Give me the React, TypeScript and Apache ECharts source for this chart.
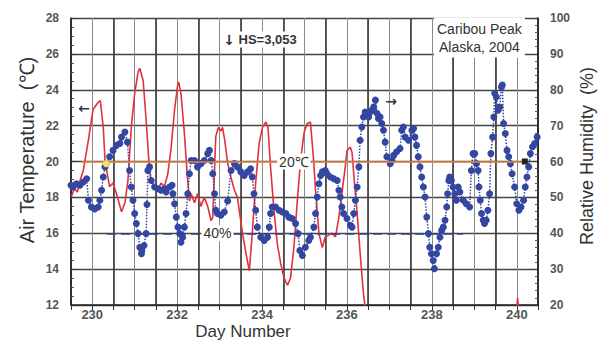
import React, { useEffect, useRef } from "react";
import * as echarts from "echarts";

// Air temperature (°C), left axis
const tempDay = [
  229.51, 229.58, 229.65, 229.72, 229.79, 229.91, 230.02, 230.14, 230.19, 230.26,
  230.3, 230.37, 230.41, 230.49, 230.57, 230.69, 230.77, 230.84, 230.92, 231.0,
  231.08, 231.12, 231.2, 231.27, 231.35, 231.39, 231.47, 231.55, 231.62, 231.7,
  231.78, 231.86, 231.94, 232.02, 232.04, 232.09, 232.17, 232.23, 232.29, 232.33,
  232.41, 232.48, 232.56, 232.64, 232.72, 232.8, 232.84, 232.88, 232.91, 232.97,
  233.03, 233.07, 233.12, 233.19, 233.27, 233.35, 233.42, 233.54, 233.62, 233.7,
  233.77, 233.85, 233.93, 234.01, 234.09, 234.14, 234.2, 234.28, 234.36, 234.44,
  234.52, 234.6, 234.67, 234.75, 234.83, 234.91, 234.99, 235.06, 235.14, 235.22,
  235.26, 235.34, 235.42, 235.49, 235.57, 235.65, 235.73, 235.81, 235.88, 235.96,
  236.0, 236.08, 236.12, 236.16, 236.24, 236.31, 236.39, 236.45, 236.46, 239.99,
  240.02, 240.05,
];
const tempC: (number | null)[] = [
  18.05, 18.5, 18.3, 19.0, 19.5, 21.2, 22.9, 23.3, 23.4, 21.9,
  20.1, 19.1, 18.6, 18.8, 18.2, 17.2, 17.7, 18.9, 21.9, 23.8,
  25.0, 25.2, 24.5, 22.3, 19.5, 18.9, 18.6, 18.4, 18.8, 18.6,
  19.3, 20.8, 22.9, 24.4, 24.4, 23.8, 21.6, 19.5, 17.8, 18.2,
  17.7, 18.2, 17.5, 18.0, 17.5, 16.7, 16.9, 19.5, 21.4, 21.9,
  21.7, 21.9, 21.2, 19.9, 19.1, 18.4, 18.0, 16.0, 14.9, 13.9,
  16.0, 18.8, 21.0, 21.9, 22.2, 21.9, 19.7, 17.3, 15.4, 14.3,
  13.5, 13.1, 13.5, 15.2, 17.8, 20.1, 21.6, 22.1, 22.2, 19.9,
  18.4, 16.0, 15.2, 15.8, 15.9, 16.0, 15.8, 16.9, 18.2, 19.7,
  20.6, 20.8, 20.5, 19.3, 17.1, 14.9, 12.6, 11.5, null, 11.5,
  12.4, 11.5,
];

// Relative humidity (%), right axis
const rhDay = [
  229.5, 229.55, 229.63, 229.71, 229.79, 229.87, 229.91, 229.98, 230.06, 230.14,
  230.18, 230.22, 230.26, 230.3, 230.33, 230.41, 230.49, 230.57, 230.65, 230.69,
  230.77, 230.83, 230.88, 230.92, 230.96, 231.0, 231.04, 231.08, 231.12, 231.16,
  231.17, 231.22, 231.27, 231.29, 231.31, 231.35, 231.39, 231.47, 231.55, 231.62,
  231.7, 231.74, 231.82, 231.88, 231.9, 231.94, 231.98, 232.02, 232.06, 232.09,
  232.13, 232.17, 232.21, 232.25, 232.29, 232.33, 232.41, 232.48, 232.56, 232.64,
  232.72, 232.76, 232.8, 232.84, 232.88, 232.91, 232.95, 233.03, 233.11, 233.19,
  233.27, 233.35, 233.42, 233.5, 233.58, 233.66, 233.73, 233.77, 233.81, 233.85,
  233.89, 233.97, 234.05, 234.13, 234.17, 234.2, 234.24, 234.32, 234.4, 234.48,
  234.56, 234.63, 234.71, 234.79, 234.85, 234.89, 234.95, 235.02, 235.1, 235.14,
  235.22, 235.26, 235.3, 235.34, 235.38, 235.42, 235.49, 235.53, 235.61, 235.69,
  235.77, 235.81, 235.84, 235.88, 235.92, 236.0, 236.08, 236.12, 236.16, 236.2,
  236.24, 236.28, 236.31, 236.35, 236.39, 236.43, 236.47, 236.51, 236.55, 236.59,
  236.63, 236.67, 236.71, 236.74, 236.78, 236.82, 236.86, 236.9, 236.94, 237.02,
  237.06, 237.1, 237.17, 237.25, 237.29, 237.33, 237.37, 237.45, 237.53, 237.57,
  237.6, 237.64, 237.68, 237.72, 237.76, 237.8, 237.84, 237.88, 237.92, 237.95,
  237.99, 238.03, 238.06, 238.11, 238.15, 238.19, 238.23, 238.27, 238.31, 238.35,
  238.37, 238.4, 238.42, 238.46, 238.5, 238.54, 238.58, 238.62, 238.66, 238.74,
  238.81, 238.89, 238.93, 238.97, 239.01, 239.05, 239.09, 239.11, 239.14, 239.17,
  239.21, 239.24, 239.28, 239.32, 239.36, 239.39, 239.43, 239.46, 239.48, 239.52,
  239.56, 239.6, 239.64, 239.66, 239.69, 239.73, 239.77, 239.81, 239.85, 239.89,
  239.95, 240.0, 240.05, 240.1, 240.16, 240.2, 240.24, 240.28, 240.32, 240.37,
  240.42, 240.48,
];
const rhPct = [
  53.4, 52.9, 53.8, 53.4, 54.3, 55.2, 49.2, 47.3, 46.8, 47.3,
  49.2, 52.0, 55.7, 58.5, 59.4, 61.3, 63.1, 64.5, 65.0, 66.8,
  68.2, 65.4, 57.5, 52.9, 49.2, 45.5, 42.7, 39.9, 36.1, 34.3,
  35.2, 36.6, 39.9, 48.0, 57.5, 58.5, 54.7, 52.9, 52.4, 52.0,
  52.4, 51.5, 52.9, 53.4, 51.0, 48.2, 44.5, 41.7, 39.9, 37.5,
  38.9, 41.7, 45.5, 51.0, 56.6, 60.3, 60.3, 58.5, 59.4, 60.3,
  62.2, 63.1, 60.3, 56.6, 51.0, 46.4, 45.5, 45.0, 45.9, 49.0,
  57.5, 59.4, 58.5, 57.1, 56.1, 57.1, 58.0, 55.7, 51.0, 46.4,
  41.7, 38.9, 38.0, 38.9, 41.7, 45.5, 47.3, 47.3, 46.4, 45.9,
  45.5, 44.5, 44.1, 42.7, 39.9, 35.2, 33.8, 36.1, 38.0, 38.9,
  41.7, 45.5, 50.1, 53.8, 56.1, 57.1, 57.5, 56.6, 55.7, 55.2,
  54.7, 52.0, 50.1, 47.3, 45.5, 44.1, 42.2, 41.7, 45.5, 49.2,
  52.9, 58.5, 65.9, 69.6, 72.4, 73.8, 73.4, 72.4, 73.8, 74.3,
  75.2, 77.1, 73.4, 72.0, 72.4, 70.6, 68.7, 65.4, 61.3, 59.4,
  60.3, 61.7, 62.7, 63.6, 68.7, 69.6, 66.8, 65.9, 68.7, 69.2,
  66.8, 64.5, 61.3, 58.5, 55.7, 52.9, 50.1, 44.5, 39.9, 36.1,
  34.3, 32.4, 30.1, 34.3, 36.1, 38.9, 40.8, 41.7, 43.6, 47.3,
  51.0, 54.7, 55.7, 54.7, 52.9, 51.0, 49.2, 52.9, 51.5, 49.2,
  48.2, 47.3, 57.5, 62.2, 62.2, 59.4, 57.5, 52.9, 49.2, 45.5,
  43.6, 42.7, 43.6, 46.4, 51.0, 62.2, 66.8, 72.4, 79.0, 78.0,
  74.3, 75.2, 80.8, 81.3, 70.6, 67.8, 63.1, 61.3, 59.4, 56.6,
  52.9, 48.2, 46.4, 47.3, 49.2, 52.9, 55.7, 58.5, 62.2, 64.1,
  65.0, 66.8,
];

const dayLabels = [230, 232, 234, 236, 238, 240];
const tempTicks = [12, 14, 16, 18, 20, 22, 24, 26, 28];
const rhTicks = [20, 30, 40, 50, 60, 70, 80, 90, 100];

const FONT = '"Liberation Sans", Arial, sans-serif';
const ARROW_FONT = '"DejaVu Sans", sans-serif';

const labelPoint = (text: string, coord: number[], extra: any = {}) => ({
  coord,
  symbol: "circle",
  symbolSize: 1,
  itemStyle: { color: "rgba(0,0,0,0)" },
  label: {
    show: true,
    position: "inside",
    formatter: text,
    color: "#333",
    fontSize: 14,
    fontFamily: FONT,
    backgroundColor: "#fff",
    padding: [1, 2],
    ...extra,
  },
});

export default function App() {
  const ref = useRef<HTMLDivElement>(null);
  useEffect(() => {
    if (!ref.current) return;
    const chart = echarts.init(ref.current, undefined, { renderer: "svg" });
    const tempData = tempDay.map((d, i) => (tempC[i] === null ? [d, "-"] : [d, tempC[i]]));
    const rhData = rhDay.map((d, i) => [d, rhPct[i]]);
    const option: any = {
      animation: false,
      backgroundColor: "#fff",
      grid: { left: 71, right: 63, top: 18, bottom: 37, containLabel: false },
      xAxis: [
        {
          type: "value",
          min: 229.5,
          max: 240.5,
          interval: 0.5,
          axisLine: { show: true, onZero: false, lineStyle: { color: "#222", width: 1.5 } },
          axisTick: { show: true, length: 5, lineStyle: { color: "#333" } },
          axisLabel: {
            color: "#555",
            fontSize: 13,
            fontWeight: "bold",
            fontFamily: FONT,
            margin: 3,
            formatter: (v: number) => {
              const r = Math.round(v);
              return Math.abs(v - r) < 1e-6 && dayLabels.includes(r) ? String(r) : "";
            },
          },
          splitLine: { show: true, lineStyle: { color: "#8a8a8a", width: 1 } },
        },
        {
          type: "value",
          min: 229.5,
          max: 240.5,
          interval: 1,
          position: "bottom",
          axisLine: { show: false },
          axisTick: { show: false },
          axisLabel: { show: false },
          splitLine: { show: true, lineStyle: { color: "#3a3a3a", width: 1.6 } },
        },
      ],
      yAxis: [
        {
          type: "value",
          min: 12,
          max: 28,
          interval: 2,
          axisLine: { show: true, lineStyle: { color: "#222", width: 1.5 } },
          axisTick: { show: true, inside: true, length: 4, lineStyle: { color: "#333" } },
          minorTick: { show: true, splitNumber: 4, length: 3, lineStyle: { color: "#555" } },
          axisLabel: {
            color: "#555",
            fontSize: 12,
            fontWeight: "bold",
            fontFamily: FONT,
            margin: 12,
            formatter: (v: number) => (tempTicks.includes(v) ? String(v) : ""),
          },
          splitLine: { show: true, lineStyle: { color: "#444", width: 1.3 } },
        },
        {
          type: "value",
          min: 20,
          max: 100,
          interval: 10,
          position: "right",
          axisLine: { show: true, lineStyle: { color: "#222", width: 1.5 } },
          axisTick: { show: true, inside: true, length: 4, lineStyle: { color: "#333" } },
          minorTick: { show: true, splitNumber: 5, length: 3, lineStyle: { color: "#555" } },
          axisLabel: {
            color: "#555",
            fontSize: 12,
            fontWeight: "bold",
            fontFamily: FONT,
            margin: 12,
            formatter: (v: number) => (rhTicks.includes(v) ? String(v) : ""),
          },
          splitLine: { show: false },
        },
      ],
      series: [
        {
          name: "Air Temperature",
          type: "line",
          xAxisIndex: 0,
          yAxisIndex: 0,
          data: tempData,
          showSymbol: false,
          connectNulls: false,
          clip: true,
          z: 3,
          lineStyle: { color: "#e2313d", width: 1.6 },
          itemStyle: { color: "#e2313d" },
          markLine: {
            silent: true,
            symbol: ["none", "none"],
            label: { show: false },
            lineStyle: { color: "#e8873c", width: 1.6, type: "solid" },
            data: [[{ coord: [229.75, 20] }, { coord: [240.22, 20] }]],
          },
          markPoint: {
            silent: true,
            data: [
              labelPoint("20℃", [234.75, 20]),
              labelPoint("40%", [232.95, 16]),
              labelPoint("{a|↓} HS=3,053", [233.95, 26.8], {
                fontWeight: "bold",
                fontSize: 13,
                rich: { a: { fontFamily: ARROW_FONT, fontSize: 14, color: "#333" } },
              }),
              labelPoint("←", [229.81, 22.97], {
                backgroundColor: "transparent",
                fontSize: 14,
                fontFamily: ARROW_FONT,
                fontWeight: "bold",
              }),
              labelPoint("→", [237.04, 23.4], {
                backgroundColor: "transparent",
                fontSize: 14,
                fontFamily: ARROW_FONT,
                fontWeight: "bold",
              }),
              labelPoint("Caribou Peak\nAlaska, 2004", [239.12, 26.91], {
                lineHeight: 18,
                padding: [2, 3],
                align: "center",
              }),
              {
                coord: [240.19, 20],
                symbol: "rect",
                symbolSize: 6,
                itemStyle: { color: "#222" },
                label: { show: false },
              },
            ],
          },
        },
        {
          name: "Relative Humidity",
          type: "line",
          xAxisIndex: 0,
          yAxisIndex: 1,
          data: rhData,
          showSymbol: true,
          showAllSymbol: true,
          symbol: "circle",
          symbolSize: 7,
          z: 4,
          lineStyle: { color: "#3346a2", width: 1.5, type: "dotted" },
          itemStyle: { color: "#3346a2" },
          markLine: {
            silent: true,
            symbol: ["none", "none"],
            label: { show: false },
            lineStyle: { color: "#2d4590", width: 1.5, type: [9, 5] },
            data: [[{ coord: [230.35, 40] }, { coord: [238.74, 40] }]],
          },
          markPoint: {
            silent: true,
            data: [
              {
                coord: [230.33, 59.4],
                symbol: "circle",
                symbolSize: 7,
                itemStyle: { color: "#f3e35c" },
                label: { show: false },
              },
            ],
          },
        },
      ],
      graphic: [
        {
          type: "text",
          x: 27,
          y: 150,
          rotation: Math.PI / 2,
          style: {
            text: "Air Temperature  (℃)",
            font: `20px ${FONT}`,
            fill: "#333",
            textAlign: "center",
            textVerticalAlign: "middle",
            align: "center",
            verticalAlign: "middle",
          },
        },
        {
          type: "text",
          x: 587,
          y: 156,
          rotation: Math.PI / 2,
          style: {
            text: "Relative Humidity  (%)",
            font: `18px ${FONT}`,
            fill: "#333",
            textAlign: "center",
            textVerticalAlign: "middle",
            align: "center",
            verticalAlign: "middle",
          },
        },
        {
          type: "text",
          x: 243,
          y: 331,
          style: {
            text: "Day Number",
            font: `17px ${FONT}`,
            fill: "#333",
            textAlign: "center",
            textVerticalAlign: "middle",
            align: "center",
            verticalAlign: "middle",
          },
        },
      ],
    };
    chart.setOption(option);
    return () => chart.dispose();
  }, []);
  return (
    <div
      ref={ref}
      style={{ position: "fixed", left: 0, top: 0, width: 601, height: 342, background: "#fff" }}
    />
  );
}
